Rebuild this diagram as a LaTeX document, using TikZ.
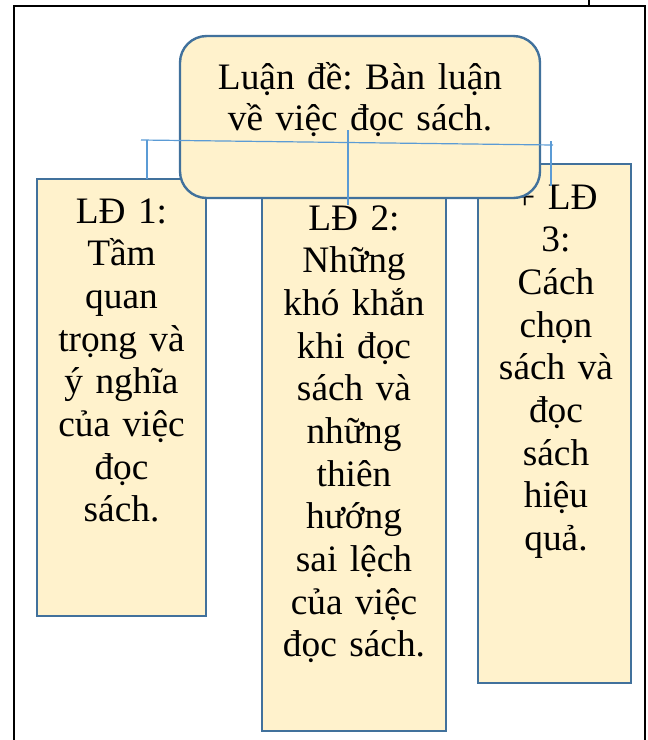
\documentclass[tikz,border=0pt]{standalone}
\usepackage{fontspec}
\setmainfont{Liberation Serif}
\usetikzlibrary{positioning}

\definecolor{boxfill}{HTML}{FFF2CC}
\definecolor{boxline}{HTML}{41719C}
\definecolor{linkline}{HTML}{5B9BD5}

\tikzset{
  ldbox/.style={draw=boxline, line width=1.8pt, fill=boxfill, inner sep=0pt, outer sep=0pt, anchor=north west},
  ldtext/.style={font=\fontsize{28}{32}\selectfont\frenchspacing, align=center, anchor=base, inner sep=0pt},
  link/.style={draw=linkline, line width=0.9pt}
}

\begin{document}
\begin{tikzpicture}[x=0.75pt, y=-0.75pt]
                \useasboundingbox (0,0) rectangle (648,740);

                % Draw the page frame
                \draw[line width=1.6pt] (14,742) -- (14,6) -- (645,6) -- (645,742);
                \draw[line width=1.2pt] (589,0) -- (589,6);

                % Draw the third argument box
                \node[ldbox, minimum width=114.75pt, minimum height=389.25pt] (ld3) at (478,164) {};
                \node[ldtext, text width=108pt] (ld3text) at (556,209)
                {+ LĐ\\3:\\Cách\\chọn\\sách và\\đọc\\sách\\hiệu\\quả.};

                % Draw the first argument box
                \node[ldbox, minimum width=126.75pt, minimum height=327.75pt] (ld1) at (37,179) {};
                \node[ldtext, text width=120pt] (ld1text) at (121.5,223)
                {LĐ 1:\\Tầm\\quan\\trọng và\\ý nghĩa\\của việc\\đọc\\sách.};

                % Draw the second argument box
                \node[ldbox, minimum width=138pt, minimum height=408.75pt] (ld2) at (262,186) {};
                \node[ldtext, text width=132pt] (ld2text) at (354,230)
                {LĐ 2:\\Những\\khó khắn\\khi đọc\\sách và\\những\\thiên\\hướng\\sai lệch\\của việc\\đọc sách.};

                % Draw the thesis box on top
                \node[ldbox, rounded corners=20pt, minimum width=270pt, minimum height=121.5pt] (thesis) at (180,36) {};
                \node[ldtext, text width=260pt, font=\fontsize{28}{31}\selectfont\frenchspacing] (thesistext) at (360,89)
                {Luận đề: Bàn luận\\về việc đọc sách.};

                % Draw the connector lines
                \coordinate (busL) at (141,140);
                \coordinate (busR) at (553,145);
                \coordinate (dropL) at (147,140.1);
                \coordinate (dropM) at (348,130);
                \coordinate (endM) at (348,205);
                \coordinate (dropR) at (551,141);
                \coordinate (endR) at (551,186);
                \draw[link] (busL) -- (busR);
                \draw[link] (dropL) -- (dropL |- ld1.north);
                \draw[link] (dropM) -- (endM);
                \draw[link] (dropR) -- (endR);

            \end{tikzpicture}
\end{document}
